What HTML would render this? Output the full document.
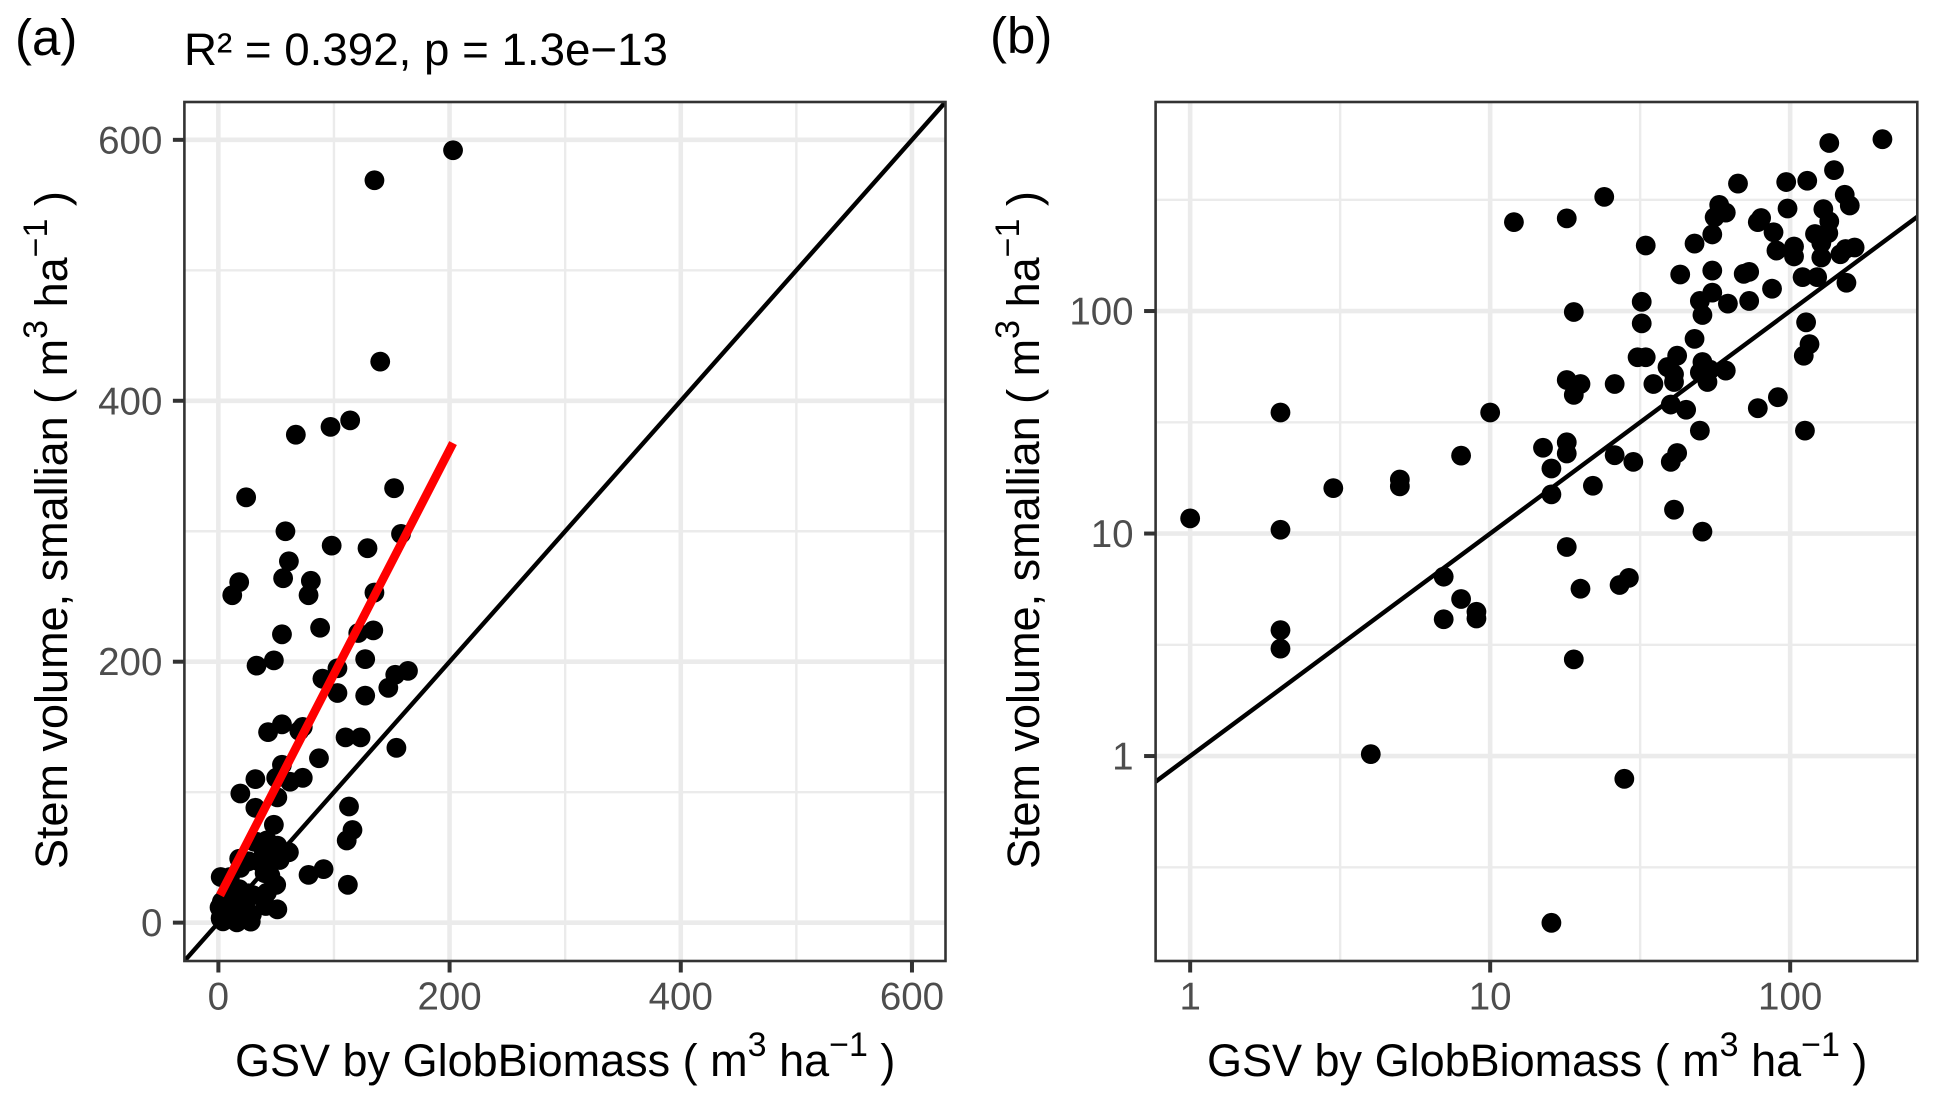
<!DOCTYPE html>
<html lang="en">
<head>
<meta charset="utf-8">
<title>Stem volume vs GSV by GlobBiomass</title>
<style>
  html, body { margin: 0; padding: 0; background: #fff; }
  svg { display: block; font-family: "Liberation Sans", Arial, sans-serif; }
  .tick-label { fill: #4d4d4d; font-size: 38.5px; }
  .axis-title { fill: #000; font-size: 45px; }
  .panel-tag { fill: #000; font-size: 51px; }
  .sup { font-size: 34px; }
</style>
</head>
<body>
<svg id="chart" xmlns="http://www.w3.org/2000/svg" width="1937" height="1104" viewBox="0 0 1937 1104">
  <rect x="0" y="0" width="1937" height="1104" fill="#ffffff"/>
  <defs>
    <clipPath id="clip-a"><rect x="184.4" y="102" width="761.1" height="859"/></clipPath>
    <clipPath id="clip-b"><rect x="1155.6" y="102" width="761.7" height="859"/></clipPath>
  </defs>
  <g id="panel-a-grid" clip-path="url(#clip-a)"></g>
  <g id="panel-b-grid" clip-path="url(#clip-b)"></g>
  <g id="panel-a-marks" clip-path="url(#clip-a)"></g>
  <g id="panel-b-marks" clip-path="url(#clip-b)"></g>
  <g id="panel-a-axes"></g>
  <g id="panel-b-axes"></g>

  <text class="panel-tag" x="15" y="55">(a)</text>
  <text class="panel-tag" x="990" y="53">(b)</text>
  <text x="184" y="65" font-size="45.7" fill="#000">R² = 0.392, p = 1.3e−13</text>

  <text class="axis-title" x="235" y="1076">GSV by GlobBiomass ( m<tspan class="sup" dy="-20">3</tspan><tspan dy="20"> ha</tspan><tspan class="sup" dy="-20">−1</tspan><tspan dy="20"> )</tspan></text>
  <text class="axis-title" x="1207" y="1076">GSV by GlobBiomass ( m<tspan class="sup" dy="-20">3</tspan><tspan dy="20"> ha</tspan><tspan class="sup" dy="-20">−1</tspan><tspan dy="20"> )</tspan></text>
  <text class="axis-title" transform="translate(67 869) rotate(-90)" x="0" y="0">Stem volume, smallian ( m<tspan class="sup" dy="-20">3</tspan><tspan dy="20"> ha</tspan><tspan class="sup" dy="-20">−1</tspan><tspan dy="20"> )</tspan></text>
  <text class="axis-title" transform="translate(1039 869) rotate(-90)" x="0" y="0">Stem volume, smallian ( m<tspan class="sup" dy="-20">3</tspan><tspan dy="20"> ha</tspan><tspan class="sup" dy="-20">−1</tspan><tspan dy="20"> )</tspan></text>
</svg>

<script>
// Plot data: the same plots are shown in both panels.
const gsvValues = [203,135,140,67,97,114,152,158,24,18,12,58,61,56,80,78,98,129,88,55,135,121,134,48,33,127,103,90,103,164,153,147,127,73,70,43,55,110,123,154,87,55,73,50,62,32,19,51,32,113,116,111,48,42,31,33,39,51,50,54,61,41,41,53,35,26,18,20,19,91,78,40,45,2,10,50,112,18,15,18,42,40,26,30,8,16,3,5,5,22,16,41,1,2,51,18,7,8,9,9,7,20,27,29,2,2,19,4,28,16];
const stemVolumeValues = [592,569,430,374,380,385,333,298,326,261,251,300,277,264,262,251,289,287,226,221,253,222,224,201,197,202,195,187,176,193,190,180,174,150,147,146,152,142,142,134,126,121,111,111,108,110,99,96,88,89,71,63,75,63,62,62,56,59,53,54.5,54,52,48,48,47,47,49,47,42,41,36.6,38,36,35,35,29,29,25.7,24.3,22.9,23,21,22.5,21,22.4,19.6,16,17.5,16.3,16.4,15,12.8,11.7,10.4,10.2,8.7,6.4,5.08,4.45,4.15,4.12,5.65,5.87,6.32,3.68,3.04,2.72,1.02,0.79,0.178];

// Linear panel (a) axes and fit
const panelAXTicks = [0,200,400,600];
const panelAYTicks = [0,200,400,600];
const panelAMinorTicks = [100,300,500];
const panelADomain = [-29.4,629];
const fitLineX = [1.4,203];
const fitLineY = [21,367.6];

// Log panel (b) axes
const panelBXTicks = [1,10,100];
const panelBYTicks = [1,10,100];
const panelBXMinorTicks = [3.162,31.62];
const panelBYMinorTicks = [0.3162,3.162,31.62,316.2];
const panelBXDomain = [0.767,265.3];
const panelBYDomain = [0.1199,870];

const SVG_NS = 'http://www.w3.org/2000/svg';
const frameA = {left:184.4,right:945.5,top:102,bottom:961};
const frameB = {left:1155.6,right:1917.3,top:102,bottom:961};
const GRID = '#ebebeb', AXIS = '#333333';

function linearScale(domain, range) {
  return function (v) {
    return range[0] + (v - domain[0]) / (domain[1] - domain[0]) * (range[1] - range[0]);
  };
}
function logScale(domain, range) {
  const inner = linearScale([Math.log10(domain[0]), Math.log10(domain[1])], range);
  return function (v) { return inner(Math.log10(v)); };
}
function make(tag, parent, attrs) {
  const el = document.createElementNS(SVG_NS, tag);
  Object.keys(attrs).forEach(function (k) { el.setAttribute(k, attrs[k]); });
  parent.appendChild(el);
  return el;
}

function drawGrid(group, frame, sx, sy, xMajor, yMajor, xMinor, yMinor) {
  xMinor.forEach(function (v) {
    const el = make('line', group, {x1:sx(v),x2:sx(v),y1:frame.top,y2:frame.bottom,stroke:GRID,'stroke-width':2.4});
    
    
  });
  yMinor.forEach(function (v) {
    const el = make('line', group, {x1:frame.left,x2:frame.right,y1:sy(v),y2:sy(v),stroke:GRID,'stroke-width':2.4});
    
    
  });
  xMajor.forEach(function (v) {
    const el = make('line', group, {x1:sx(v),x2:sx(v),y1:frame.top,y2:frame.bottom,stroke:GRID,'stroke-width':4.6});
    
    
  });
  yMajor.forEach(function (v) {
    const el = make('line', group, {x1:frame.left,x2:frame.right,y1:sy(v),y2:sy(v),stroke:GRID,'stroke-width':4.6});
    
    
  });
}

function drawAxes(group, frame, sx, sy, xTicks, yTicks) {
  xTicks.forEach(function (v) {
    const tick = make('line', group, {x1:sx(v),x2:sx(v),y1:frame.bottom,y2:frame.bottom+11.5,stroke:AXIS,'stroke-width':4});
    
    
    const label = make('text', group, {x:sx(v),y:1009.5,'text-anchor':'middle','class':'tick-label'});
    label.textContent = String(v);
    
    
  });
  yTicks.forEach(function (v) {
    const tick = make('line', group, {x1:frame.left-11.5,x2:frame.left,y1:sy(v),y2:sy(v),stroke:AXIS,'stroke-width':4});
    
    
    const label = make('text', group, {x:frame.left-22,y:sy(v)+13.5,'text-anchor':'end','class':'tick-label'});
    label.textContent = String(v);
    
    
  });
  const border = make('rect', group, {x:frame.left,y:frame.top,width:frame.right-frame.left,height:frame.bottom-frame.top,fill:'none',stroke:AXIS,'stroke-width':2.6});
  
  
}

function drawPoints(group, sx, sy) {
  gsvValues.forEach(function (x, i) {
    const dot = make('circle', group, {cx:sx(x),cy:sy(stemVolumeValues[i]),r:9.9,fill:'#000'});
    
    
  });
}

// Panel (a)
const xA = linearScale(panelADomain, [frameA.left, frameA.right]);
const yA = linearScale(panelADomain, [frameA.bottom, frameA.top]);
const gridA = document.getElementById('panel-a-grid');
const marksA = document.getElementById('panel-a-marks');
drawGrid(gridA, frameA, xA, yA, panelAXTicks, panelAYTicks, panelAMinorTicks, panelAMinorTicks);
const oneToOneA = make('line', marksA, {x1:xA(panelADomain[0]),y1:yA(panelADomain[0]),x2:xA(panelADomain[1]),y2:yA(panelADomain[1]),stroke:'#000','stroke-width':4.4});


drawPoints(marksA, xA, yA);
const fitLine = make('line', marksA, {x1:xA(fitLineX[0]),y1:yA(fitLineY[0]),x2:xA(fitLineX[1]),y2:yA(fitLineY[1]),stroke:'#ff0000','stroke-width':8.6});


drawAxes(document.getElementById('panel-a-axes'), frameA, xA, yA, panelAXTicks, panelAYTicks);

// Panel (b)
const xB = logScale(panelBXDomain, [frameB.left, frameB.right]);
const yB = logScale(panelBYDomain, [frameB.bottom, frameB.top]);
const gridB = document.getElementById('panel-b-grid');
const marksB = document.getElementById('panel-b-marks');
drawGrid(gridB, frameB, xB, yB, panelBXTicks, panelBYTicks, panelBXMinorTicks, panelBYMinorTicks);
const oneToOneB = make('line', marksB, {x1:xB(panelBXDomain[0]),y1:yB(panelBXDomain[0]),x2:xB(panelBXDomain[1]),y2:yB(panelBXDomain[1]),stroke:'#000','stroke-width':4.4});


drawPoints(marksB, xB, yB);
drawAxes(document.getElementById('panel-b-axes'), frameB, xB, yB, panelBXTicks, panelBYTicks);
</script>
</body>
</html>
